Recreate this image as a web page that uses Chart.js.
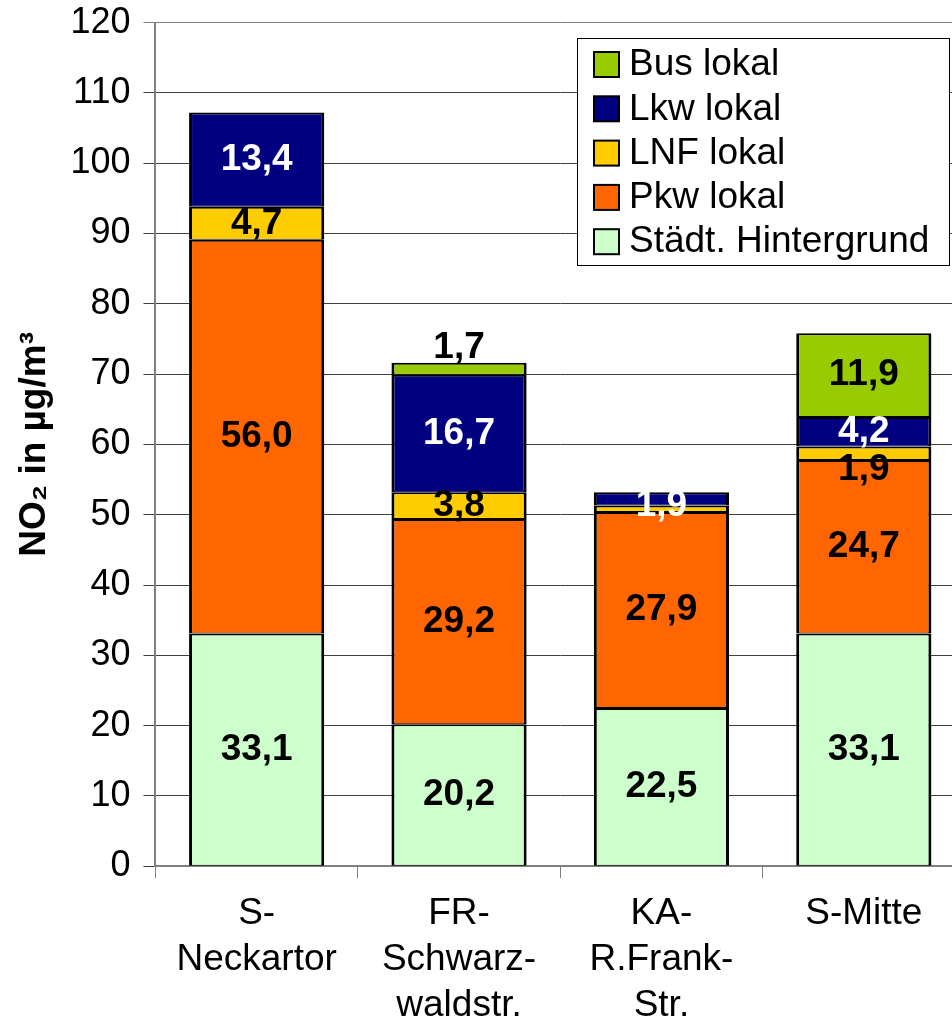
<!DOCTYPE html>
<html>
<head>
<meta charset="utf-8">
<script src="https://cdn.jsdelivr.net/npm/chart.js@4.4.1/dist/chart.umd.min.js"></script>
<style>
  html, body { margin: 0; padding: 0; overflow: hidden; background: #fff; }
  #wrap { position: relative; width: 965px; height: 1053px; margin-top: -12px; }
</style>
</head>
<body>
<div id="wrap"><canvas id="chart"></canvas></div>
<script>
// NO2 contributions per station (µg/m³)
const categories = [['S-', 'Neckartor'], ['FR-', 'Schwarz-', 'waldstr.'], ['KA-', 'R.Frank-', 'Str.'], ['S-Mitte']];
const hintergrund = [33.1, 20.2, 22.5, 33.1];
const pkw = [56.0, 29.2, 27.9, 24.7];
const lnf = [4.7, 3.8, 0.9, 1.9];
const lkw = [13.4, 16.7, 1.9, 4.2];
const bus = [0, 1.7, 0, 11.9];
const yMin = 0, yMax = 120, yStep = 10;

const FONT = '"Liberation Sans", Arial, sans-serif';
Chart.defaults.font.family = FONT;
Chart.defaults.color = '#000';

// value labels inside the segments
const segmentLabels = {
  id: 'segmentLabels',
  afterDatasetsDraw(chart) {
    const ctx = chart.ctx;
    // small segments: label pushed out like in the original
    const nudge = { '4-1': -21, '2-3': 17, '3-2': 7 };
    ctx.save();
    ctx.font = 'bold 37px ' + FONT;
    ctx.textAlign = 'center';
    ctx.textBaseline = 'middle';
    chart.data.datasets.forEach((ds, di) => {
      const meta = chart.getDatasetMeta(di);
      meta.data.forEach((bar, i) => {
        const v = ds.data[i];
        if (!v || v < 1) return;
        const y = (bar.y + bar.base) / 2 + (nudge[di + '-' + i] || 0);
        ctx.fillStyle = ds.labelColor;
        ctx.fillText(v.toFixed(1).replace('.', ','), bar.x, y);
      });
    });
    ctx.restore();
  }
};

// boxed legend in the upper right corner (canvas is shifted up 12px)
const boxLegend = {
  id: 'boxLegend',
  afterDraw(chart) {
    const ctx = chart.ctx;
    const x = 577, y = 50, w = 372, h = 227;
    ctx.save();
    ctx.fillStyle = '#fff';
    ctx.fillRect(x, y, w, h);
    ctx.strokeStyle = '#000';
    ctx.lineWidth = 1;
    ctx.strokeRect(x + 0.5, y + 0.5, w, h);
    ctx.font = '37px ' + FONT;
    ctx.textBaseline = 'middle';
    const items = chart.data.datasets.slice().reverse();
    items.forEach((ds, k) => {
      const cy = y + 26 + k * 44.3;
      ctx.fillStyle = ds.backgroundColor;
      ctx.fillRect(594, cy - 12, 25, 25);
      ctx.lineWidth = 2;
      ctx.strokeRect(594, cy - 12, 25, 25);
      ctx.fillStyle = '#000';
      ctx.fillText(ds.label, 629, cy + 1);
    });
    ctx.restore();
  }
};

function makeSet(label, data, color, labelColor) {
  return {
    label: label,
    data: data,
    backgroundColor: color,
    borderColor: '#000',
    borderWidth: { top: 2, bottom: 1, left: 3, right: 3 },
    borderSkipped: false,
    labelColor: labelColor
  };
}

new Chart(document.getElementById('chart'), {
  type: 'bar',
  data: {
    labels: categories,
    datasets: [
      makeSet('Städt. Hintergrund', hintergrund, '#CCFFCC', '#000'),
      makeSet('Pkw lokal', pkw, '#FF6600', '#000'),
      makeSet('LNF lokal', lnf, '#FFCC00', '#000'),
      makeSet('Lkw lokal', lkw, '#000080', '#fff'),
      makeSet('Bus lokal', bus, '#99CC00', '#000')
    ]
  },
  options: {
    responsive: true,
    maintainAspectRatio: false,
    animation: false,
    layout: { padding: { top: -7, right: 0, left: 0, bottom: 0 } },
    datasets: { bar: { categoryPercentage: 1, barPercentage: 0.668 } },
    plugins: {
      legend: { display: false },
      tooltip: { enabled: false }
    },
    scales: {
      x: {
        stacked: true,
        offset: true,
        grid: { offset: true, drawOnChartArea: false, tickLength: 12, color: '#808080' },
        border: { color: '#808080', width: 2 },
        ticks: { font: { size: 37, lineHeight: 1.25 }, padding: 12, maxRotation: 0, autoSkip: false }
      },
      y: {
        stacked: true,
        min: yMin,
        max: yMax,
        grid: {
          tickLength: 12,
          color: ctx => ctx.tick && ctx.tick.value === yMax ? '#808080' : '#404040'
        },
        border: { color: '#808080', width: 2 },
        ticks: { stepSize: yStep, font: { size: 36 }, padding: 13 },
        title: {
          display: true,
          text: 'NO₂ in µg/m³',
          font: { size: 37, weight: 'bold' },
          padding: { top: 13, bottom: 0 }
        }
      }
    }
  },
  plugins: [segmentLabels, boxLegend]
});
</script>
</body>
</html>
